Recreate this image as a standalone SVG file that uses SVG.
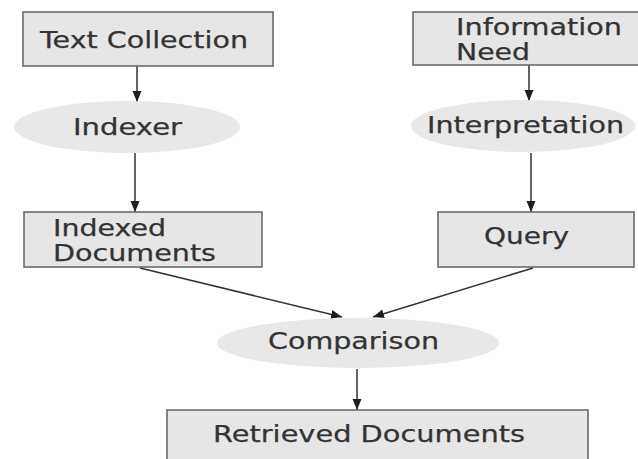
<svg xmlns="http://www.w3.org/2000/svg" width="638" height="459" viewBox="0 0 638 459">
  <style>
    .box { fill: #e6e6e6; stroke: #6b6b6b; stroke-width: 1.6; }
    .oval { fill: #e8e8e8; stroke: none; }
    .label { font-family: "DejaVu Sans", Verdana, sans-serif; font-size: 23px; fill: #333333; stroke: #333333; stroke-width: 0.25; }
    .edge { stroke: #333; stroke-width: 1.5; fill: none; marker-end: url(#arrow); }
  </style>
  <defs>
    <marker id="arrow" markerUnits="userSpaceOnUse" markerWidth="12" markerHeight="12" viewBox="0 0 12 12" refX="11" refY="6" orient="auto">
      <path d="M0,1.5 L11,6 L0,10.5 Z" fill="#1e1e1e"/>
    </marker>
  </defs>
  <rect width="638" height="459" fill="#ffffff"/>

  <g id="connectors">
    <line class="edge" x1="137" y1="66" x2="137" y2="102"/>
    <line class="edge" x1="529" y1="65" x2="529" y2="101"/>
    <line class="edge" x1="135" y1="153" x2="135" y2="212"/>
    <line class="edge" x1="531" y1="153" x2="531" y2="212"/>
    <line class="edge" x1="140" y1="268" x2="342" y2="317"/>
    <line class="edge" x1="533" y1="268" x2="373" y2="317"/>
    <line class="edge" x1="357" y1="369" x2="357" y2="410"/>
  </g>

  <g id="text-collection">
    <rect class="box" x="23" y="12" width="250" height="54"/>
    <text class="label" x="40" y="48" textLength="208" lengthAdjust="spacingAndGlyphs">Text Collection</text>
  </g>

  <g id="information-need">
    <rect class="box" x="413" y="12" width="235" height="53"/>
    <text class="label" x="456" y="35" textLength="166" lengthAdjust="spacingAndGlyphs">Information</text>
    <text class="label" x="456" y="60" textLength="74" lengthAdjust="spacingAndGlyphs">Need</text>
  </g>

  <g id="indexer">
    <ellipse class="oval" cx="127" cy="127" rx="113" ry="26"/>
    <text class="label" x="73" y="135" textLength="109" lengthAdjust="spacingAndGlyphs">Indexer</text>
  </g>

  <g id="interpretation">
    <ellipse class="oval" cx="523" cy="126" rx="112" ry="26"/>
    <text class="label" x="427" y="133" textLength="197" lengthAdjust="spacingAndGlyphs">Interpretation</text>
  </g>

  <g id="indexed-documents">
    <rect class="box" x="24" y="212" width="238" height="55"/>
    <text class="label" x="53" y="236" textLength="113" lengthAdjust="spacingAndGlyphs">Indexed</text>
    <text class="label" x="53" y="261" textLength="163" lengthAdjust="spacingAndGlyphs">Documents</text>
  </g>

  <g id="query">
    <rect class="box" x="438" y="212" width="196" height="55"/>
    <text class="label" x="484" y="244" textLength="85" lengthAdjust="spacingAndGlyphs">Query</text>
  </g>

  <g id="comparison">
    <ellipse class="oval" cx="358" cy="343" rx="141" ry="25"/>
    <text class="label" x="268" y="349" textLength="171" lengthAdjust="spacingAndGlyphs">Comparison</text>
  </g>

  <g id="retrieved-documents">
    <rect class="box" x="167" y="410" width="421" height="60"/>
    <text class="label" x="213" y="442" textLength="312" lengthAdjust="spacingAndGlyphs">Retrieved Documents</text>
  </g>
</svg>
